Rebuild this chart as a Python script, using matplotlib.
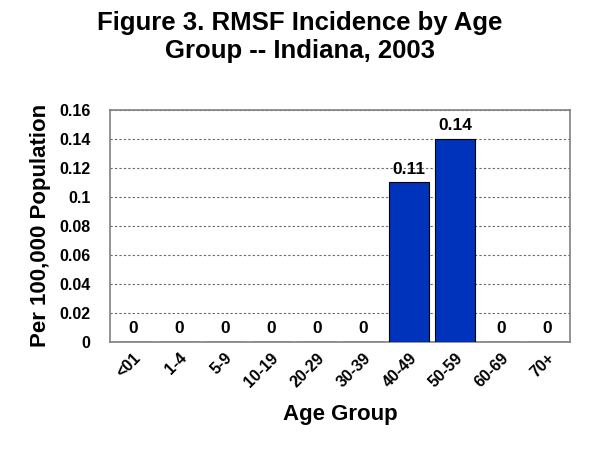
import matplotlib as mpl
mpl.use('Agg')
import matplotlib.pyplot as plt

plt.rcParams['font.family'] = ['Liberation Sans', 'DejaVu Sans']
plt.rcParams['font.weight'] = 'bold'

groups = ['<01', '1-4', '5-9', '10-19', '20-29', '30-39', '40-49', '50-59', '60-69', '70+']
rates = [0, 0, 0, 0, 0, 0, 0.11, 0.14, 0, 0]
rate_labels = ['0', '0', '0', '0', '0', '0', '0.11', '0.14', '0', '0']
yticks = [0, 0.02, 0.04, 0.06, 0.08, 0.1, 0.12, 0.14, 0.16]
ytick_labels = ['0', '0.02', '0.04', '0.06', '0.08', '0.1', '0.12', '0.14', '0.16']

fig = plt.figure(figsize=(6, 4.5), dpi=100)
ax = fig.add_axes([0.183, 0.24, 0.767, 0.516])

x = range(len(groups))
bars = ax.bar(x, rates, width=0.87, color='#0033BB', edgecolor='black', linewidth=0.8, zorder=3)
for b, lab in zip(bars, rate_labels):
    ax.text(b.get_x() + b.get_width() / 2, b.get_height() + 0.004, lab,
            ha='center', va='bottom', fontsize=12.5, fontweight='bold', zorder=4)

ax.set_xlim(-0.5, len(groups) - 0.5)
ax.set_ylim(0, 0.16)
ax.set_yticks(yticks)
ax.set_yticklabels(ytick_labels)
ax.set_xticks(list(x))
ax.set_xticklabels(groups, rotation=45, ha='right', rotation_mode='anchor')
ax.tick_params(axis='both', length=0, labelsize=11.5)
ax.tick_params(axis='y', pad=14)
ax.tick_params(axis='x', pad=6)
ax.yaxis.grid(True, linestyle=(0, (2, 2)), color='#666666', linewidth=0.8, zorder=0)
for s in ax.spines.values():
    s.set_color('#808080')
    s.set_linewidth(1.2)

ax.set_xlabel('Age Group', fontsize=16, fontweight='bold', labelpad=10)
ax.set_ylabel('Per 100,000 Population', fontsize=16, fontweight='bold', labelpad=6)
fig.suptitle('Figure 3. RMSF Incidence by Age\nGroup -- Indiana, 2003', fontsize=18.5,
             fontweight='bold', x=0.5, y=0.975, linespacing=1.2)

plt.savefig('out.png', dpi=100)
